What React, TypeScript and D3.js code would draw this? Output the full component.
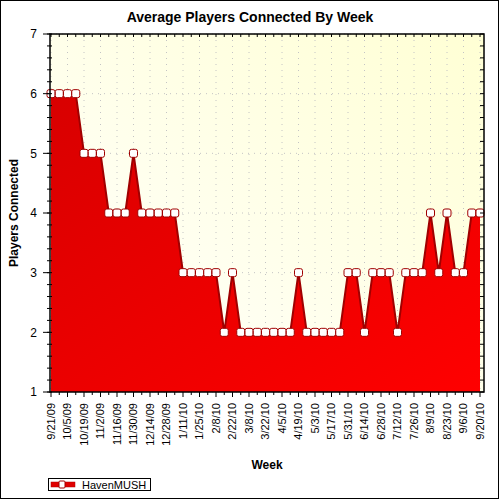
import React from "react";
import * as d3 from "d3";

// weekly categories (every week from 9/21/09 to 9/20/10)
const weeks: string[] = [
	"9/21/09", "9/28/09", "10/5/09", "10/12/09", "10/19/09", "10/26/09",
	"11/2/09", "11/9/09", "11/16/09", "11/23/09", "11/30/09", "12/7/09",
	"12/14/09", "12/21/09", "12/28/09", "1/4/10", "1/11/10", "1/18/10",
	"1/25/10", "2/1/10", "2/8/10", "2/15/10", "2/22/10", "3/1/10",
	"3/8/10", "3/15/10", "3/22/10", "3/29/10", "4/5/10", "4/12/10",
	"4/19/10", "4/26/10", "5/3/10", "5/10/10", "5/17/10", "5/24/10",
	"5/31/10", "6/7/10", "6/14/10", "6/21/10", "6/28/10", "7/5/10",
	"7/12/10", "7/19/10", "7/26/10", "8/2/10", "8/9/10", "8/16/10",
	"8/23/10", "8/30/10", "9/6/10", "9/13/10", "9/20/10",
];

const havenMush: number[] = [
	6, 6, 6, 6, 5, 5, 5, 4, 4, 4,
	5, 4, 4, 4, 4, 4, 3, 3, 3, 3,
	3, 2, 3, 2, 2, 2, 2, 2, 2, 2,
	3, 2, 2, 2, 2, 2, 3, 3, 2, 3,
	3, 3, 2, 3, 3, 3, 4, 3, 4, 3,
	3, 4, 4,
];

const yTicks = [1, 2, 3, 4, 5, 6, 7];

const FONT = "Arial, 'Liberation Sans', sans-serif";

export default function App() {
	const left = 50;
	const right = 484;
	const top = 34;
	const bottom = 392;

	const x = d3.scalePoint<string>().domain(weeks).range([51, 480]);
	const y = d3.scaleLinear().domain([1, 7]).range([bottom, top]);

	const pts = weeks.map((w, i) => ({w, v: havenMush[i]}));

	const area = d3
		.area<{w: string; v: number}>()
		.x((d) => x(d.w)!)
		.y0(bottom)
		.y1((d) => y(d.v));
	const line = d3
		.line<{w: string; v: number}>()
		.x((d) => x(d.w)!)
		.y((d) => y(d.v));

	const minorY = d3.range(1, 7.001, 0.2);
	const labeled = weeks.filter((_, i) => i % 2 === 0);

	return (
		<svg width={500} height={500} style={{position: "absolute", left: 0, top: 0}} fontFamily={FONT}>
			<defs>
				<linearGradient id="bg" x1="0" y1="1" x2="1" y2="0">
					<stop offset="0" stopColor="#ffffff" />
					<stop offset="1" stopColor="#ffffd4" />
				</linearGradient>
				<linearGradient id="fill" x1="0" y1="0" x2="1" y2="1">
					<stop offset="0" stopColor="#d80000" />
					<stop offset="1" stopColor="#ff0000" />
				</linearGradient>
			</defs>
			<rect x={0} y={0} width={500} height={500} fill="#fff" />
			<rect x={0.5} y={0.5} width={498} height={498} fill="none" stroke="#000" />

			<text x={250} y={22} textAnchor="middle" fontSize={14} fontWeight="bold" fill="#000">
				Average Players Connected By Week
			</text>

			{/* plot background */}
			<rect x={left} y={top} width={right - left} height={bottom - top} fill="url(#bg)" />

			{/* grid */}
			{labeled.map((w) => (
				<line key={"gx" + w} x1={x(w)} x2={x(w)} y1={top} y2={bottom} stroke="#c4c4c4" strokeDasharray="1,5" />
			))}
			{yTicks.map((t) => (
				<line key={"gy" + t} x1={left} x2={right} y1={y(t)} y2={y(t)} stroke="#c4c4c4" strokeDasharray="1,5" />
			))}

			{/* series */}
			<path d={area(pts)!} fill="url(#fill)" />
			<path d={line(pts)!} fill="none" stroke="#a00000" strokeWidth={2} strokeLinejoin="round" />
			{pts.map((d) => (
				<rect
					key={"m" + d.w}
					x={x(d.w)! - 4}
					y={y(d.v) - 4}
					width={8}
					height={8}
					rx={2}
					fill="#fff"
					stroke="#a00000"
					strokeWidth={1}
				/>
			))}

			{/* frame */}
			<rect x={left} y={top} width={right - left} height={bottom - top} fill="none" stroke="#000" strokeWidth={1.5} />

			{/* left axis ticks */}
			{minorY.map((t, i) => (
				<g key={"ly" + i}>
					<line x1={left - 3} x2={left + 2} y1={y(t)} y2={y(t)} stroke="#000" />
					<line x1={right - 4} x2={right} y1={y(t)} y2={y(t)} stroke="#000" />
				</g>
			))}
			{yTicks.map((t) => (
				<g key={"yt" + t}>
					<line x1={left - 7} x2={left} y1={y(t)} y2={y(t)} stroke="#000" />
					<text x={37} y={y(t)} dy="0.35em" textAnchor="end" fontSize={12} fill="#000">
						{t}
					</text>
				</g>
			))}

			{/* bottom and top ticks */}
			{weeks.map((w, i) => (
				<g key={"xt" + w}>
					<line x1={x(w)} x2={x(w)} y1={bottom} y2={bottom + (i % 2 === 0 ? 5 : 3)} stroke="#000" />
					<line x1={x(w)} x2={x(w)} y1={top} y2={top + 3} stroke="#000" />
				</g>
			))}
			{labeled.map((w) => (
				<text
					key={"xl" + w}
					transform={`translate(${x(w)},${403}) rotate(-90)`}
					dy="0.35em"
					textAnchor="end"
					fontSize={11}
					fill="#000"
				>
					{w}
				</text>
			))}

			<text x={267} y={469} textAnchor="middle" fontSize={12} fontWeight="bold" fill="#000">
				Week
			</text>
			<text
				transform={`translate(18,${(top + bottom) / 2}) rotate(-90)`}
				textAnchor="middle"
				fontSize={12}
				fontWeight="bold"
				fill="#000"
			>
				Players Connected
			</text>

			{/* legend */}
			<rect x={48.5} y={478.5} width={102} height={12} fill="#fff" stroke="#000" />
			<rect x={51} y={482} width={24} height={5} fill="#e00000" stroke="#b00000" strokeWidth={0.5} />
			<rect x={59} y={481} width={6} height={7} rx={1} fill="#fff" stroke="#a00000" strokeWidth={1} />
			<text x={82} y={489} fontSize={11} fill="#000">
				HavenMUSH
			</text>
		</svg>
	);
}
